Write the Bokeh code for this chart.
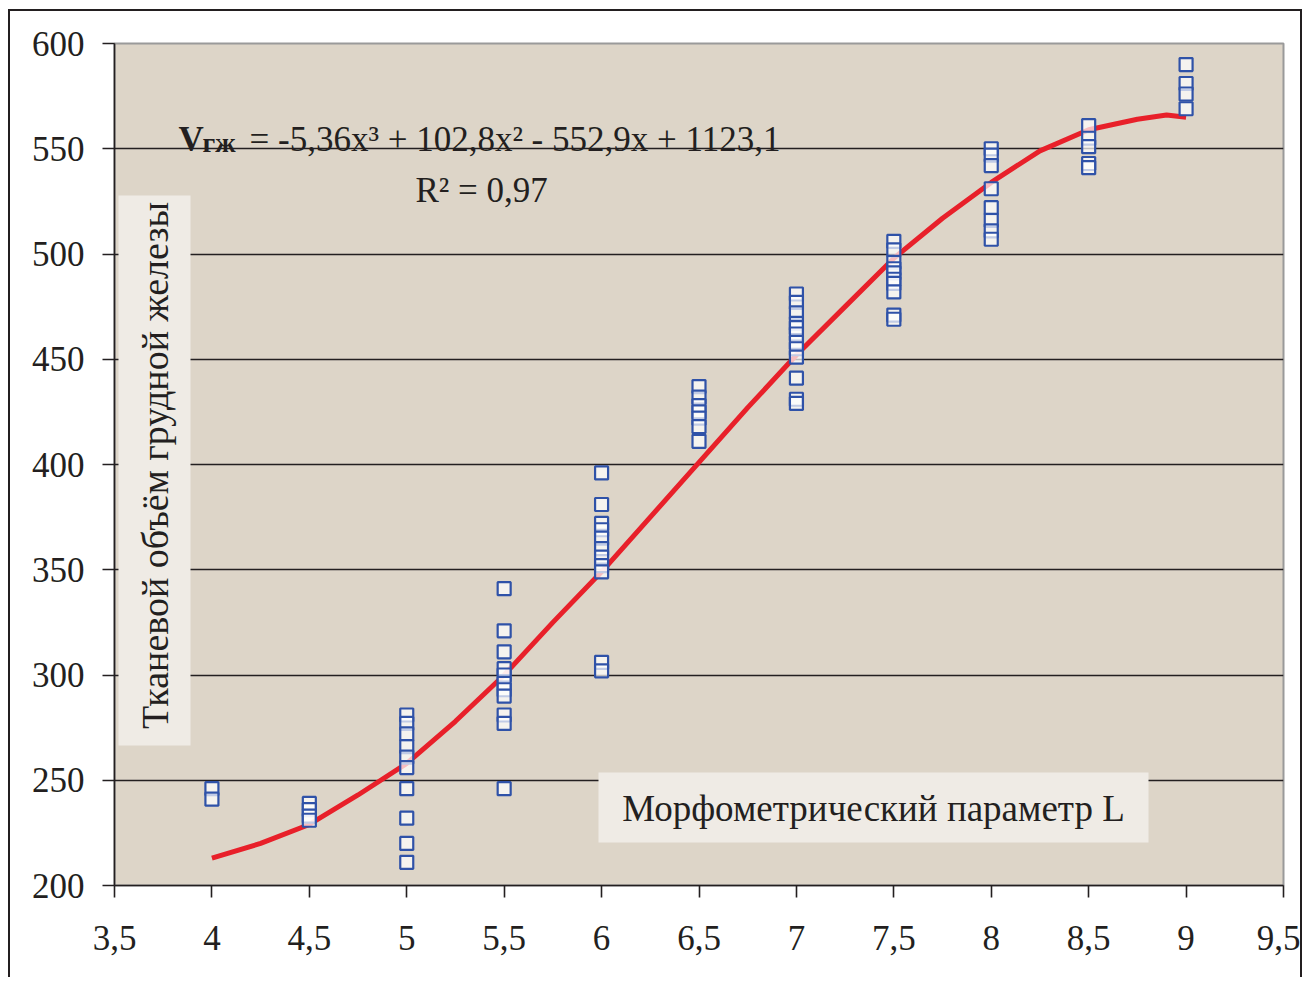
from bokeh.plotting import figure
from bokeh.models import Label, BoxAnnotation, FixedTicker
from bokeh.embed import file_html
from bokeh.resources import INLINE
import math

# ---- data ----
x_groups = [4, 4.5, 5, 5.5, 6, 6.5, 7, 7.5, 8, 8.5, 9]
y_groups = [
    [246, 241],
    [239, 236, 233, 231],
    [281, 277, 272, 266, 261, 256, 246, 232, 220, 211],
    [341, 321, 311, 303, 300, 296, 293, 290, 281, 277, 246],
    [396, 381, 372, 369, 365, 360, 356, 352, 349, 306, 302],
    [437, 432, 428, 425, 422, 418, 411],
    [481, 477, 472, 467, 465, 462, 458, 455, 451, 441, 431, 429],
    [506, 502, 496, 493, 491, 488, 486, 482, 471, 469],
    [550, 547, 542, 531, 522, 516, 511, 507],
    [561, 555, 551, 543, 541],
    [590, 581, 576, 569],
]
trend_x = [4, 4.25, 4.5, 4.75, 5, 5.25, 5.5, 5.75, 6, 6.25, 6.5, 6.75, 7, 7.25, 7.5, 7.75, 8, 8.25, 8.5, 8.75, 8.9, 9]
trend_y = [213, 220, 229, 243, 258, 278, 300, 325, 349, 375, 401, 427, 452, 475, 498, 517, 534, 549, 559, 564, 566, 565]
x_ticks = [3.5, 4, 4.5, 5, 5.5, 6, 6.5, 7, 7.5, 8, 8.5, 9, 9.5]
x_tick_labels = ["3,5", "4", "4,5", "5", "5,5", "6", "6,5", "7", "7,5", "8", "8,5", "9", "9,5"]
y_ticks = [200, 250, 300, 350, 400, 450, 500, 550, 600]
y_tick_labels = ["200", "250", "300", "350", "400", "450", "500", "550", "600"]
equation_text = "= -5,36x\u00b3 + 102,8x\u00b2 - 552,9x + 1123,1"
r2_text = "R\u00b2 = 0,97"
y_title = "Тканевой объём грудной железы"
x_title = "Морфометрический параметр L"

pts_x = [gx for gx, ys in zip(x_groups, y_groups) for _ in ys]
pts_y = [v for ys in y_groups for v in ys]

# ---- layout ----
FL, FR, FT, FB = 114, 1283, 43, 885  # frame in page px
CX, CY = 10, 11                       # canvas origin on page
W, H = 1294, 968
XMIN, XMAX, YMIN, YMAX = 3.5, 9.5, 200, 600

def X(px):
    return XMIN + (px - FL) / (FR - FL) * (XMAX - XMIN)

def Y(py):
    return YMAX - (py - FT) / (FB - FT) * (YMAX - YMIN)

SERIF = "Liberation Serif"
INK = "#231f20"

p = figure(width=W, height=H, x_range=(XMIN, XMAX), y_range=(YMIN, YMAX),
           output_backend="svg", toolbar_location=None,
           min_border_left=FL - CX, min_border_right=W - (FL - CX) - (FR - FL),
           min_border_top=FT - CY, min_border_bottom=H - (FT - CY) - (FB - FT))
p.styles = {"margin-left": "8px", "margin-top": "9px",
            "border-left": "2px solid #231f20", "border-top": "2px solid #231f20",
            "border-right": "2px solid #231f20"}
p.background_fill_color = "#ddd5c8"
p.border_fill_color = "white"
p.outline_line_color = "#9a9a9a"
p.outline_line_width = 2

p.xgrid.visible = False
p.ygrid.ticker = FixedTicker(ticks=y_ticks[1:-1])
p.ygrid.grid_line_color = INK
p.ygrid.grid_line_width = 1.6

for ax, ticks, labels in ((p.xaxis[0], x_ticks, x_tick_labels), (p.yaxis[0], y_ticks, y_tick_labels)):
    ax.ticker = FixedTicker(ticks=ticks)
    ax.major_label_overrides = {t: l for t, l in zip(ticks, labels)}
    ax.major_label_text_font = SERIF
    ax.major_label_text_font_size = "35px"
    ax.major_label_text_color = INK
    ax.axis_line_color = INK
    ax.axis_line_width = 1.6
    ax.major_tick_line_color = INK
    ax.major_tick_line_width = 1.6
    ax.major_tick_in = 0
    ax.major_tick_out = 12
    ax.minor_tick_line_color = None
p.yaxis.major_label_standoff = 18
p.xaxis.major_label_standoff = 28

# label boxes
p.add_layout(BoxAnnotation(left=X(118), right=X(190), top=Y(195), bottom=Y(745),
                           fill_color="#efebe5", fill_alpha=1, line_color=None, level="underlay"))
p.add_layout(BoxAnnotation(left=X(598), right=X(1148), top=Y(772), bottom=Y(842),
                           fill_color="#efebe5", fill_alpha=1, line_color=None, level="underlay"))

# data
p.line(trend_x, trend_y, line_color="#e8202a", line_width=5)
p.scatter(pts_x, pts_y, marker="square", size=13, line_color="#2f52a8", line_width=2.2,
          fill_color="white", fill_alpha=0.7)

# texts
def lab(px, py, text, size, **kw):
    p.add_layout(Label(x=X(px), y=Y(py), text=text, text_font=SERIF,
                       text_font_size=size, text_color=INK, **kw))

lab(178, 139, "V", "35px", text_font_style="bold", text_baseline="alphabetic")
lab(202, 142, "гж", "28px", text_font_style="bold", text_baseline="alphabetic")
lab(249, 139, equation_text, "35px", text_baseline="alphabetic")
lab(415, 190, r2_text, "35px", text_baseline="alphabetic")
lab(154, 465, y_title, "38px", angle=math.pi / 2, text_align="center", text_baseline="middle")
lab(873, 808, x_title, "37px", text_align="center", text_baseline="middle")

open("out.html", "w").write(file_html(p, INLINE))
